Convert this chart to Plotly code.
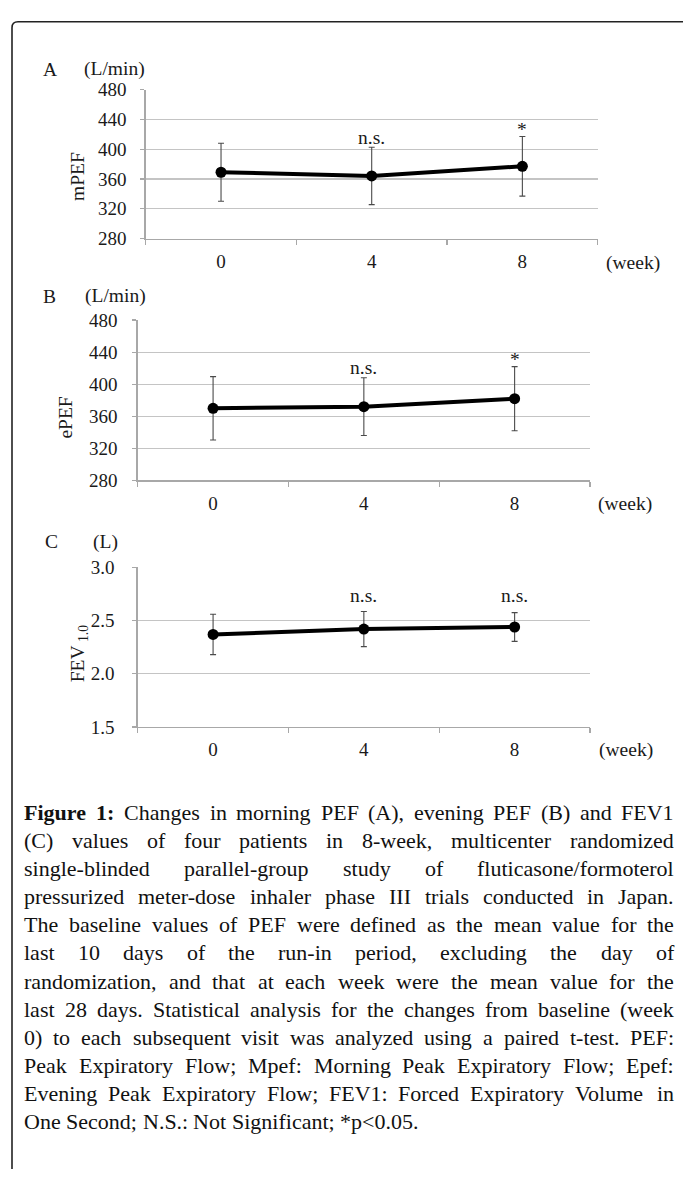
import plotly.graph_objects as go

W, H = 683, 1180

# ---------------- data ----------------
weeks = ["0", "4", "8"]

mpef_mean = [369, 364, 377]
mpef_err = [39, 38.5, 40]
mpef_sig = ["", "n.s.", "*"]

epef_mean = [370, 372, 382]
epef_err = [39.5, 36, 40]
epef_sig = ["", "n.s.", "*"]

fev_mean = [2.37, 2.42, 2.44]
fev_err = [0.19, 0.165, 0.135]
fev_sig = ["", "n.s.", "n.s."]

pef_ticks = [280, 320, 360, 400, 440, 480]
fev_ticks = [1.5, 2.0, 2.5, 3.0]
fev_ticktext = ["1.5", "2.0", "2.5", "3.0"]

caption_bold = "Figure 1:"
caption_lines = [
    "Figure 1: Changes in morning PEF (A), evening PEF (B) and FEV1",
    "(C) values of four patients in 8-week, multicenter randomized",
    "single-blinded parallel-group study of fluticasone/formoterol",
    "pressurized meter-dose inhaler phase III trials conducted in Japan.",
    "The baseline values of PEF were defined as the mean value for the",
    "last 10 days of the run-in period, excluding the day of",
    "randomization, and that at each week were the mean value for the",
    "last 28 days. Statistical analysis for the changes from baseline (week",
    "0) to each subsequent visit was analyzed using a paired t-test. PEF:",
    "Peak Expiratory Flow; Mpef: Morning Peak Expiratory Flow; Epef:",
    "Evening Peak Expiratory Flow; FEV1: Forced Expiratory Volume in",
    "One Second; N.S.: Not Significant; *p<0.05.",
]

# ---------------- styling helpers ----------------
FONT = "Liberation Serif"
TXT = "#1a1a1a"
GRID = "#c4c4c4"
AXIS = "#a8a8a8"
LBL = 19.5
TICK = 19


def px(x):
    return x / W


def py(y):
    return 1 - y / H


panels = [
    dict(mean=mpef_mean, err=mpef_err, sig=mpef_sig, ticks=pef_ticks, ticktext=[str(t) for t in pef_ticks],
         rng=[280, 480], box=(145.7, 597.7, 81, 232.7), letter="A", unit="(L/min)", letter_xy=(50, 60.5),
         unit_xy=(114.5, 60), ytitle="mPEF", ytitle_xy=(78, 170), week_xy=(633, 257.5), standoff=10,
         sig_fixed=None),
    dict(mean=epef_mean, err=epef_err, sig=epef_sig, ticks=pef_ticks, ticktext=[str(t) for t in pef_ticks],
         rng=[280, 480], box=(137.7, 590, 315.7, 479), letter="B", unit="(L/min)", letter_xy=(49.5, 291.5),
         unit_xy=(115.5, 291), ytitle="ePEF", ytitle_xy=(66, 415), week_xy=(625, 502.5), standoff=11,
         sig_fixed=None),
    dict(mean=fev_mean, err=fev_err, sig=fev_sig, ticks=fev_ticks, ticktext=fev_ticktext,
         rng=[1.5, 3.0], box=(137.7, 590, 567.5, 730), letter="C", unit="(L)", letter_xy=(51.5, 541.5),
         unit_xy=(105.5, 541.5), ytitle="FEV<sub> 1.0</sub>", ytitle_xy=(79, 656), week_xy=(625.5, 753.5),
         standoff=14, sig_fixed=2.737),
]

fig = go.Figure()
annotations = []

for i, p in enumerate(panels):
    n = "" if i == 0 else str(i + 1)
    xa, ya = "x" + n, "y" + n
    l, r, t, b = p["box"]
    fig.add_trace(go.Scatter(
        x=weeks, y=p["mean"], xaxis=xa, yaxis=ya, mode="lines+markers",
        line=dict(color="black", width=4),
        marker=dict(color="black", size=11),
        error_y=dict(type="data", array=p["err"], visible=True, color="#4a4a4a", thickness=1.1, width=3),
        showlegend=False, hoverinfo="skip",
    ))
    fig.layout["xaxis" + n] = dict(
        domain=[px(l), px(r)], anchor=ya, type="category", categoryorder="array", categoryarray=weeks,
        range=[-0.5, 2.5], tickson="boundaries", ticks="outside", ticklen=5, tickcolor=AXIS, tickwidth=1.3,
        showline=True, linecolor=AXIS, linewidth=1.3, showgrid=False, zeroline=False,
        tickfont=dict(family=FONT, size=TICK, color=TXT), ticklabelstandoff=5, fixedrange=True,
    )
    fig.layout["yaxis" + n] = dict(
        domain=[py(b), py(t)], anchor=xa, range=p["rng"], tickmode="array", tickvals=p["ticks"],
        ticktext=p["ticktext"], ticks="outside", ticklen=4, tickcolor=AXIS, tickwidth=1.3,
        showline=True, linecolor=AXIS, linewidth=1.3, showgrid=True, gridcolor=GRID, gridwidth=1.3,
        zeroline=False, tickfont=dict(family=FONT, size=TICK, color=TXT), ticklabelstandoff=p["standoff"],
        fixedrange=True,
    )
    # significance marks (category axis: positions are category indices)
    for j, s in enumerate(p["sig"]):
        if not s:
            continue
        if p["sig_fixed"] is not None:
            annotations.append(dict(x=j, y=p["sig_fixed"], xref=xa, yref=ya, text=s, showarrow=False,
                                    yanchor="middle", font=dict(family=FONT, size=LBL, color=TXT)))
        else:
            annotations.append(dict(x=j, y=p["mean"][j] + p["err"][j], xref=xa, yref=ya, text=s,
                                    showarrow=False, yanchor="middle", yshift=10 if s != "*" else 7,
                                    font=dict(family=FONT, size=LBL, color=TXT)))
    # panel letter and unit
    annotations.append(dict(x=px(p["letter_xy"][0]), y=py(p["letter_xy"][1]), xref="paper", yref="paper",
                            text=p["letter"], showarrow=False, xanchor="center", yanchor="middle",
                            font=dict(family=FONT, size=LBL, color=TXT)))
    annotations.append(dict(x=px(p["unit_xy"][0]), y=py(p["unit_xy"][1]), xref="paper", yref="paper",
                            text=p["unit"], showarrow=False, xanchor="center", yanchor="middle",
                            font=dict(family=FONT, size=LBL, color=TXT)))
    annotations.append(dict(x=px(p["ytitle_xy"][0]), y=py(p["ytitle_xy"][1]), xref="paper", yref="paper",
                            text=p["ytitle"], showarrow=False, textangle=-90, xanchor="center",
                            yanchor="middle", font=dict(family=FONT, size=LBL, color=TXT)))
    annotations.append(dict(x=px(p["week_xy"][0]), y=py(p["week_xy"][1]), xref="paper", yref="paper",
                            text="(week)", showarrow=False, xanchor="center", yanchor="middle",
                            font=dict(family=FONT, size=LBL, color=TXT)))

# ---------------- caption (justified, word by word) ----------------
TR = {' ': 250, '!': 333, '"': 408, '#': 500, '$': 500, '%': 833, '&': 778, "'": 333, '(': 333, ')': 333,
      '*': 500, '+': 564, ',': 250, '-': 333, '.': 250, '/': 278, ':': 278, ';': 278, '<': 564, '=': 564,
      '>': 564, '?': 444, '@': 921,
      'A': 722, 'B': 667, 'C': 667, 'D': 722, 'E': 611, 'F': 556, 'G': 722, 'H': 722, 'I': 333, 'J': 389,
      'K': 722, 'L': 611, 'M': 889, 'N': 722, 'O': 722, 'P': 556, 'Q': 722, 'R': 667, 'S': 556, 'T': 611,
      'U': 722, 'V': 722, 'W': 944, 'X': 722, 'Y': 722, 'Z': 611,
      'a': 444, 'b': 500, 'c': 444, 'd': 500, 'e': 444, 'f': 333, 'g': 500, 'h': 500, 'i': 278, 'j': 278,
      'k': 500, 'l': 278, 'm': 778, 'n': 500, 'o': 500, 'p': 500, 'q': 500, 'r': 333, 's': 389, 't': 278,
      'u': 500, 'v': 500, 'w': 722, 'x': 500, 'y': 500, 'z': 444}
TB = {'F': 611, 'i': 278, 'g': 500, 'u': 556, 'r': 444, 'e': 444, '1': 500, ':': 333, ' ': 250}

CAP_SIZE = 22
CAP_LEFT, CAP_RIGHT = 24, 674
CAP_Y0, CAP_DY = 817, 28.6


def wwidth(word, bold):
    tbl = TB if bold else TR
    return sum(tbl.get(c, 500) for c in word) * CAP_SIZE / 1000.0


nbold = len(caption_bold.split(" "))
for li, line in enumerate(caption_lines):
    words = line.split(" ")
    bolds = [li == 0 and k < nbold for k in range(len(words))]
    widths = [wwidth(w, bd) for w, bd in zip(words, bolds)]
    last = li == len(caption_lines) - 1
    if last or len(words) == 1:
        gap = TR[' '] * CAP_SIZE / 1000.0
    else:
        gap = max(2.0, (CAP_RIGHT - CAP_LEFT - sum(widths)) / (len(words) - 1))
    x = CAP_LEFT
    yc = CAP_Y0 + li * CAP_DY
    for w, bd, wd in zip(words, bolds, widths):
        txt = "<b>%s</b>" % w if bd else w
        annotations.append(dict(x=px(x), y=py(yc), xref="paper", yref="paper", text=txt, showarrow=False,
                                xanchor="left", yanchor="middle", borderpad=0, borderwidth=0,
                                font=dict(family=FONT, size=CAP_SIZE, color="#111111")))
        x += wd + gap

# ---------------- frame ----------------
frame = "M %f,%f L %f,%f Q %f,%f %f,%f L %f,%f" % (
    px(12), 0.0, px(12), py(18), px(12), py(12), px(18), py(12), 1.0, py(12))

fig.update_layout(
    width=W, height=H, margin=dict(l=0, r=0, t=0, b=0),
    paper_bgcolor="white", plot_bgcolor="white",
    annotations=annotations,
    shapes=[dict(type="path", path=frame, xref="paper", yref="paper", line=dict(color="#222222", width=1.6))],
)

fig.write_html("out.html", config={"displayModeBar": False, "staticPlot": True},
               post_script="document.body.style.margin='0';document.body.style.overflow='hidden';")
